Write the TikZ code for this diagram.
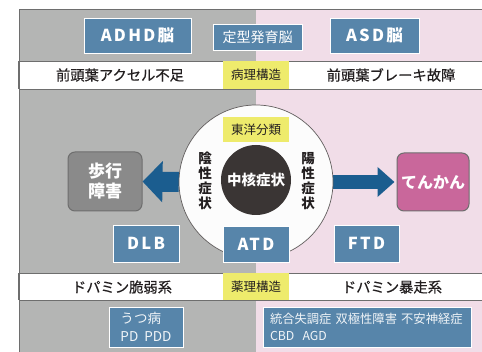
\documentclass[tikz,border=0pt]{standalone}
\usepackage{fontspec}
\usetikzlibrary{shadows,arrows.meta}
\newfontfamily\jp{Noto Sans CJK JP}
\newfontfamily\jpm{Noto Sans CJK JP}[FakeBold=0.5]
\newfontfamily\jpw{Noto Sans CJK JP}[LetterSpace=14]
\definecolor{bggray}{HTML}{B4B5B4}
\definecolor{bgpink}{HTML}{F1DDE8}
\definecolor{boxblue}{HTML}{5785AA}
\definecolor{ylw}{HTML}{EEEB6C}
\definecolor{arrblue}{HTML}{1B5D8F}
\definecolor{magbox}{HTML}{C9679B}
\definecolor{gbox}{HTML}{8A8A8A}
\definecolor{darkc}{HTML}{3A3534}
\definecolor{txt}{HTML}{231F20}
\definecolor{lineg}{HTML}{6E6E6E}
\tikzset{
  bluebox/.style={draw=white, line width=0.8pt, fill=boxblue, text=white,
    drop shadow={shadow xshift=0.8pt, shadow yshift=-1.2pt, opacity=0.35},
    inner sep=0pt},
  bigbold/.style={font=\jpw\bfseries\fontsize{16.5}{18}\selectfont},
  ylwbox/.style={fill=ylw, inner sep=0pt, minimum width=66pt, text=txt,
    font=\jp\fontsize{12.5}{14}\selectfont},
  bandtxt/.style={text=txt, font=\jpm\fontsize{14.3}{16}\selectfont},
  vtxt/.style={text=txt, align=center, font=\jp\bfseries\fontsize{13.5}{15}\selectfont},
  roundbox/.style={draw=lineg, line width=1pt, rounded corners=7pt, text=white,
    align=center, inner sep=0pt},
  fatarrL/.style={arrblue, line width=20pt, -{Triangle[length=20pt, width=40pt]}},
  fatarrR/.style={arrblue, line width=14pt, -{Triangle[length=17pt, width=29pt]}},
  smalltxt/.style={font=\jp\fontsize{13.5}{17.5}\selectfont, text=white!92!boxblue, align=left}
}
\begin{document}
\begin{tikzpicture}[x=1pt,y=-1pt]
\useasboundingbox (0,0) rectangle (482,352);
\fill[white] (0,0) rectangle (482,352);
\fill[bggray] (19,10) rectangle (256,352);
\fill[bgpink] (256,10) rectangle (482,352);
\draw[lineg, line width=1pt] (19,352) -- (19,10) -- (482,10);
% bands
\fill[white] (19,61) rectangle (482,89);
\draw[lineg, line width=0.8pt] (19,61) -- (482,61) (19,89) -- (482,89);
\fill[white] (19,273) rectangle (482,300);
\draw[lineg, line width=0.8pt] (19,273) -- (482,273) (19,300) -- (482,300);
\draw[lineg, line width=1.2pt] (19,61) -- (19,89) (19,273) -- (19,300);

% top boxes
\node[bluebox, bigbold, minimum width=107pt, minimum height=35pt] (adhd) at (137.5,35.5) {ADHD脳};
\node[bluebox, font=\jp\fontsize{14}{16}\selectfont, minimum width=89pt, minimum height=26pt] (teikei) at (257.5,37) {定型発育脳};
\node[bluebox, bigbold, minimum width=89pt, minimum height=35pt] (asd) at (374.5,35.5) {ASD脳};

\node[bandtxt] (accel) at (120,75) {前頭葉アクセル不足};
\node[ylwbox, minimum height=28pt] (byouri) at (256,75) {病理構造};
\node[bandtxt] (brake) at (391,75) {前頭葉ブレーキ故障};

% side boxes
\node[roundbox, fill=gbox, minimum width=74pt, minimum height=59pt,
  font=\jp\bfseries\fontsize{17}{20}\selectfont] (hokou) at (105,181.5) {歩行\\障害};
\node[roundbox, fill=magbox, minimum width=72pt, minimum height=58pt,
  font=\jp\bfseries\fontsize{16}{18}\selectfont] (tenkan) at (433,182) {てんかん};

% circle
\node[circle, minimum size=154pt, inner sep=0pt] (circ) at (256,182) {};
\draw[fatarrL] (circ.west) -- (hokou.east);
\draw[fatarrR, shorten >=2pt] (circ.east) -- (tenkan.west);
\node[circle, minimum size=154pt, inner sep=0pt, fill=white!96!bggray, draw=darkc!80, line width=0.7pt] at (circ) {};
\node[ylwbox, minimum height=25pt] (toyo) at (256,129.5) {東洋分類};
\node[circle, fill=darkc, minimum size=70pt, inner sep=0pt, text=white,
  font=\jp\bfseries\fontsize{14.5}{16}\selectfont] (core) at (256,180) {中核症状};
\node[vtxt] (insei) at (205,181) {陰\\性\\症\\状};
\node[vtxt] (yousei) at (308,181) {陽\\性\\症\\状};

% lower boxes
\node[bluebox, bigbold, minimum width=66pt, minimum height=37pt] (dlb) at (146,243.5) {DLB};
\node[bluebox, bigbold, minimum width=66pt, minimum height=36pt] (atd) at (256,244) {ATD};
\node[bluebox, bigbold, minimum width=65pt, minimum height=37pt] (ftd) at (366.5,243.5) {FTD};

\node[bandtxt] (jakuhen) at (122,287) {ドパミン脆弱系};
\node[ylwbox, minimum height=27pt] (yakuri) at (256,286.5) {薬理構造};
\node[bandtxt] (bousou) at (392,287) {ドパミン暴走系};

\node[bluebox, smalltxt, minimum width=74pt, minimum height=40pt] (utsu) at (146,327) {うつ病\\PD\ \ PDD};
\node[bluebox, smalltxt, font=\jp\fontsize{12.3}{17.5}\selectfont, minimum width=208pt, minimum height=40pt, text width=194pt] (tougou) at (367,327) {統合失調症\ 双極性障害\ 不安神経症\\CBD\ \ AGD};
\end{tikzpicture}
\end{document}
